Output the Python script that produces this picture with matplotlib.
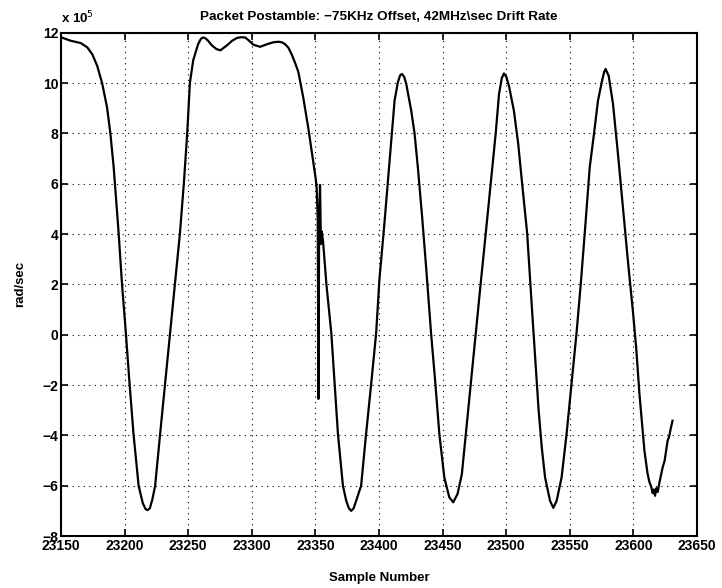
import matplotlib
matplotlib.use('Agg')
import matplotlib.pyplot as plt
import numpy as np

plt.rcParams['font.family'] = ['Liberation Sans', 'DejaVu Sans']

# sample number vs. frequency (units of 1e5 rad/sec)
sample = [23150, 23151, 23157.6, 23165.4, 23170.6, 23174.5, 23178.4, 23182.3,
          23186.2, 23188.8, 23191.4, 23195.3, 23197.9, 23201, 23203.9, 23207,
          23211, 23214.3, 23216.5, 23218, 23219.8, 23221.8, 23224, 23227.9,
          23231.8, 23235.7, 23239.6, 23243.5, 23246.6, 23249.2, 23251.3,
          23253.9, 23257.8, 23260, 23261.7, 23263.5, 23265.6, 23268.5,
          23272.1, 23275.3, 23280.5, 23284.5, 23288.3, 23291.5, 23294.8,
          23297.4, 23301.3, 23306.5, 23313, 23317, 23320.8, 23323.5, 23326,
          23328.8, 23331.2, 23334, 23336.5, 23340.4, 23344.3, 23347.7, 23350.2,
          23351.0, 23351.8, 23352.4, 23352.9, 23353.6, 23354.3, 23355.0,
          23356.0, 23358.6, 23362.5, 23365.1, 23367.7, 23371.6, 23374.2,
          23376.3, 23378.1, 23380, 23382, 23385.9, 23389.8, 23393.8, 23397.7,
          23400.3, 23404.4, 23408.3, 23412.2, 23414.8, 23416.5, 23418,
          23419.7, 23421.4, 23425.3, 23427.9, 23430.5, 23433.9, 23437,
          23440.9, 23444.3, 23447.4, 23451.3, 23455.2, 23458.3, 23461.7,
          23465.1, 23468.2, 23472.1, 23476, 23479.9, 23483.9, 23487.8,
          23491.7, 23494.3, 23496.5, 23498.2, 23500, 23502.1, 23506, 23509.4,
          23512.5, 23516.4, 23520.3, 23522.9, 23525.4, 23527.9, 23530.5,
          23534.4, 23537, 23539.6, 23543.5, 23547.4, 23551.3, 23555.2,
          23558.6, 23561.7, 23565.6, 23569, 23572.1, 23575.3, 23577, 23578.1,
          23579, 23580.5, 23583.9, 23587.8, 23591.7, 23595.6, 23599.5,
          23602.1, 23604.7, 23608.6, 23611, 23612.5, 23614, 23615.1, 23616,
          23616.9, 23618, 23619, 23620.5, 23622.9, 23624.5, 23626.8, 23628,
          23629.4, 23630.7]

rad_sec = [11.82, 11.8, 11.68, 11.59, 11.42, 11.15, 10.69, 10.0,
           9.03, 8.0, 6.65, 4.04, 2.04, 0.05, -1.96, -3.95,
           -6.0, -6.7, -6.93, -6.97, -6.9, -6.55, -6.0, -3.95,
           -1.96, 0.05, 2.04, 4.04, 6.04, 8.0, 10.0,
           10.9, 11.55, 11.76, 11.81, 11.78, 11.68, 11.5,
           11.35, 11.3, 11.5, 11.68, 11.79, 11.82, 11.81,
           11.7, 11.52, 11.44, 11.56, 11.62, 11.64, 11.62, 11.55,
           11.4, 11.15, 10.8, 10.45, 9.43, 8.24, 7.05, 6.2,
           5.8, 4.6, -2.55, 4.5, 5.95, 3.6, 4.1,
           3.7, 2.01, 0.05, -1.96, -3.95, -6.0, -6.6,
           -6.9, -7.0, -6.9, -6.6, -6.0, -3.95, -1.96, 0.05,
           2.2, 4.53, 6.91, 9.3, 10.03, 10.3, 10.36,
           10.25, 9.96, 8.9, 8.0, 6.65, 4.66, 2.68,
           0.05, -1.96, -3.95, -5.67, -6.46, -6.66, -6.33,
           -5.54, -3.95, -1.96, 0.05, 2.04, 4.04, 6.04,
           8.0, 9.56, 10.2, 10.38, 10.25, 9.89, 8.9, 7.58,
           5.99, 4.04, 0.95, -1.03, -2.98, -4.48, -5.67,
           -6.6, -6.88, -6.6, -5.67, -3.95, -1.96, 0.05,
           2.04, 4.04, 6.65, 8.0, 9.3, 10.09, 10.45, 10.56,
           10.45, 10.29, 9.17, 7.18, 5.06, 2.94, 0.95,
           -0.5, -2.36, -4.61, -5.5, -5.85, -6.05, -6.3, -6.15,
           -6.4, -6.1, -6.25, -5.85, -5.28, -5.0, -4.22, -4.05,
           -3.7, -3.42]

xticks = np.arange(23150, 23651, 50)
yticks = np.arange(-8, 13, 2)

fig = plt.figure(figsize=(7.22, 5.88), dpi=100)
ax = fig.add_axes([0.0845, 0.0884, 0.881, 0.856])

ax.plot(sample, rad_sec, color='black', lw=1.6)

ax.set_xlim(23150, 23650)
ax.set_ylim(-8, 12)
ax.set_xticks(xticks)
ax.set_yticks(yticks)
ax.tick_params(direction='in', length=5, width=1.2, top=True, right=True,
               labelsize=10, pad=2)
for lab in ax.get_xticklabels() + ax.get_yticklabels():
    lab.set_fontweight('bold')
ax.grid(True, linestyle=(0, (1, 4)), color='black', lw=0.8)
for s in ax.spines.values():
    s.set_linewidth(1.5)

ax.set_title('Packet Postamble: \u221275KHz Offset, 42MHz\\sec Drift Rate',
             fontsize=9.7, fontweight='bold', pad=9)
ax.set_xlabel('Sample Number', fontsize=9.5, fontweight='bold', labelpad=14)
ax.set_ylabel('rad/sec', fontsize=9.5, fontweight='bold', labelpad=12)
ax.text(0.0, 1.012, 'x 10$^5$', transform=ax.transAxes, fontsize=9.5,
        fontweight='bold', ha='left', va='bottom')

fig.savefig('out.png', dpi=100)
